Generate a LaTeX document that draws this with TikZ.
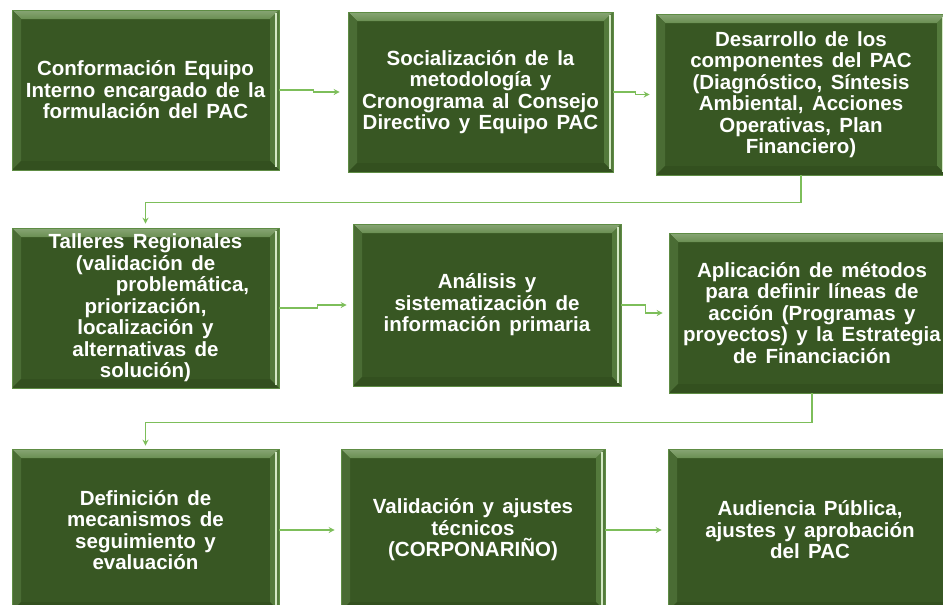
\documentclass[tikz,border=0pt]{standalone}
\usepackage{fontspec}
\setmainfont{Liberation Sans}
\usetikzlibrary{arrows.meta,calc}
\definecolor{boxgreen}{HTML}{385723}
\definecolor{boxedge}{HTML}{5E8C44}
\definecolor{bevtop}{HTML}{6A8F52}
\definecolor{bevleft}{HTML}{4A6C34}
\definecolor{bevright}{HTML}{547A3C}
\definecolor{bevbot}{HTML}{33501F}
\definecolor{hilite}{HTML}{D3E8C4}
\definecolor{conncol}{HTML}{7DBE5A}
\newcommand\boxfnt{\fontsize{20.5pt}{21.5pt}\selectfont\bfseries}
\newcommand\widesp{\spaceskip=8.4pt plus 2pt minus 1pt\relax}
\tikzset{
  box/.style={rectangle, fill=boxgreen, draw=boxedge, line width=0.6pt,
    text=white, align=center, inner sep=0pt,
    font=\boxfnt,
    path picture={
      \coordinate (nw) at (path picture bounding box.north west);
      \coordinate (ne) at (path picture bounding box.north east);
      \coordinate (sw) at (path picture bounding box.south west);
      \coordinate (se) at (path picture bounding box.south east);
      \shade[top color=bevtop!80!white, bottom color=bevtop]
        (nw) -- (ne) -- ([xshift=-9pt,yshift=-9pt]ne) -- ([xshift=9pt,yshift=-9pt]nw) -- cycle;
      \fill[bevleft] (nw) -- ([xshift=9pt,yshift=-9pt]nw) -- ([xshift=9pt,yshift=9pt]sw) -- (sw) -- cycle;
      \fill[bevright] (ne) -- ([xshift=-9pt,yshift=-9pt]ne) -- ([xshift=-9pt,yshift=9pt]se) -- (se) -- cycle;
      \fill[bevbot] (sw) -- ([xshift=9pt,yshift=9pt]sw) -- ([xshift=-9pt,yshift=9pt]se) -- (se) -- cycle;
      \draw[hilite, line width=1.2pt] ([xshift=-3pt,yshift=-3pt]ne) -- ([xshift=-3pt,yshift=3pt]se);
    }},
  conn/.style={draw=conncol, line width=1.4pt,
    -{Stealth[length=6pt,width=6pt]}, shorten >=6pt}
}
\begin{document}
\begin{tikzpicture}[x=1pt,y=-1pt]
\clip (0,0) rectangle (943,605);
\fill[white] (0,0) rectangle (943,605);
\node[box, minimum width=267pt, minimum height=160pt] (b1) at (145.5,90)
  {\widesp Conformación Equipo\\\widesp Interno encargado de la\\\widesp formulación del PAC};
\node[box, minimum width=265pt, minimum height=160pt] (b2) at (480.5,92)
  {\widesp Socialización de la\\\widesp metodología y\\\widesp Cronograma al Consejo\\\widesp Directivo y Equipo PAC};
\node[box, minimum width=290pt, minimum height=161pt] (b3) at (801,94.5)
  {\widesp Desarrollo de los\\\widesp componentes del PAC\\\widesp (Diagnóstico, Síntesis\\\widesp Ambiental, Acciones\\\widesp Operativas, Plan\\Financiero)};
\node[box, minimum width=267pt, minimum height=160pt] (b4) at (145.5,308)
  {\widesp Talleres Regionales\\\widesp (validación de\\\hspace*{74pt}problemática,\\priorización,\\\widesp localización y\\\widesp alternativas de\\solución)};
\node[box, minimum width=268pt, minimum height=162pt] (b5) at (487,305)
  {\widesp Análisis y\\\widesp sistematización de\\\widesp información primaria};
\node[box, minimum width=286pt, minimum height=160pt] (b6) at (812,313)
  {\widesp Aplicación de métodos\\\widesp para definir líneas de\\\widesp acción (Programas y\\\widesp proyectos) y la Estrategia\\\widesp de Financiación};
\node[box, minimum width=267pt, minimum height=162pt] (b7) at (145.5,530)
  {\widesp Definición de\\\widesp mecanismos de\\\widesp seguimiento y\\evaluación};
\node[box, minimum width=264pt, minimum height=162pt] (b8) at (473,530)
  {\widesp Validación y ajustes\\técnicos\\(CORPONARIÑO)};
\node[box, minimum width=284pt, minimum height=162pt] (b9) at (810,530)
  {\widesp Audiencia Pública,\\\widesp ajustes y aprobación\\\widesp del PAC};
\draw[conn, shorten >=8pt] (b1.east) -- ++(34,0) |- (b2.west);
\draw[conn] (b2.east) -- ++(22,0) |- (b3.west);
\draw[conn, shorten >=4pt] (b3.south) -- ++(0,27) -| (b4.north);
\draw[conn] (b4.east) -- ++(38,0) |- (b5.west);
\draw[conn] (b5.east) -- ++(24,0) |- (b6.west);
\draw[conn, shorten >=3pt] (b6.south) -- ++(0,29) -| (b7.north);
\draw[conn] (b7.east) -- (b8.west);
\draw[conn] (b8.east) -- (b9.west);
\end{tikzpicture}
\end{document}
